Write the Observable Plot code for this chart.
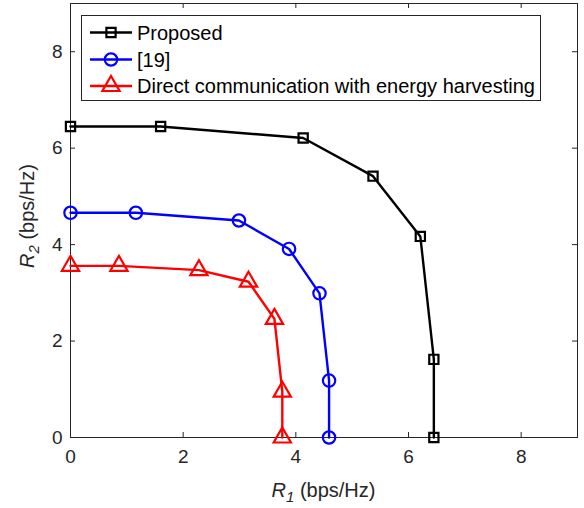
<!DOCTYPE html>
<html>
<head>
<meta charset="utf-8">
<script src="https://cdn.jsdelivr.net/npm/d3@7"></script>
<script src="https://cdn.jsdelivr.net/npm/@observablehq/plot@0.6"></script>
<style>
  html, body { margin: 0; padding: 0; background: #fff; }
  #chart { width: 584px; height: 508px; }
</style>
</head>
<body>
<div id="chart"></div>
<script>
// ---- Data ----
const seriesNames = ["Proposed", "[19]", "Direct communication with energy harvesting"];
const seriesColors = ["#000000", "#0000ff", "#ff0000"];
const seriesSymbols = ["square", "circle", "triangle"];

const proposedR1 = [0, 1.60, 4.13, 5.37, 6.21, 6.45, 6.45];
const proposedR2 = [6.45, 6.45, 6.21, 5.42, 4.17, 1.62, 0];

const ref19R1 = [0, 1.16, 2.99, 3.88, 4.42, 4.59, 4.59];
const ref19R2 = [4.66, 4.66, 4.50, 3.91, 2.99, 1.18, 0];

const directR1 = [0, 0.86, 2.28, 3.16, 3.62, 3.76, 3.76];
const directR2 = [3.56, 3.56, 3.47, 3.23, 2.46, 0.95, 0];

const xTicks = [0, 2, 4, 6, 8];
const yTicks = [0, 2, 4, 6, 8];
const xDomain = [0, 9];
const yDomain = [0, 9];

// ---- Build table ----
const allR1 = [proposedR1, ref19R1, directR1];
const allR2 = [proposedR2, ref19R2, directR2];
const rows = [];
seriesNames.forEach((s, i) => {
  allR1[i].forEach((x, j) => rows.push({series: s, r1: x, r2: allR2[i][j]}));
});

const W = 584, H = 508;
const mL = 70, mR = 7, mT = 3, mB = 71;
const innerH = H - mT - mB;
const innerW = W - mL - mR;
const axisColor = "#262626";
const tickLen = 5;
const symR = {square: 5.2, circle: 6.2, triangle: 6.4};

const marks = [
  Plot.frame({stroke: axisColor, strokeWidth: 1}),
  // inward ticks on all four sides
  Plot.tickX(xTicks, {x: d => d, insetTop: innerH - tickLen, stroke: axisColor}),
  Plot.tickX(xTicks, {x: d => d, insetBottom: innerH - tickLen, stroke: axisColor}),
  Plot.tickY(yTicks, {y: d => d, insetRight: innerW - tickLen, stroke: axisColor}),
  Plot.tickY(yTicks, {y: d => d, insetLeft: innerW - tickLen, stroke: axisColor}),
  Plot.axisX({ticks: xTicks, tickSize: 0, tickPadding: 12, fontSize: 19, label: null, color: axisColor, tickFormat: d => d}),
  Plot.axisY({ticks: yTicks, tickSize: 0, tickPadding: 8, fontSize: 19, label: null, color: axisColor, tickFormat: d => d})
];
seriesNames.forEach((s, i) => {
  const d = rows.filter(r => r.series === s);
  marks.push(Plot.line(d, {x: "r1", y: "r2", stroke: seriesColors[i], strokeWidth: 2.4}));
  marks.push(Plot.dot(d, {x: "r1", y: "r2", symbol: seriesSymbols[i], r: symR[seriesSymbols[i]],
    stroke: seriesColors[i], fill: "none", strokeWidth: 2.2}));
});

const svg = Plot.plot({
  width: W, height: H,
  marginLeft: mL, marginRight: mR, marginTop: mT, marginBottom: mB,
  style: {fontFamily: "'Liberation Sans', Arial, Helvetica, sans-serif", background: "#fff", color: axisColor},
  x: {domain: xDomain, axis: null},
  y: {domain: yDomain, axis: null},
  symbol: {domain: seriesSymbols, range: seriesSymbols},
  marks
});

document.getElementById("chart").appendChild(svg);

// ---- Axis titles (italic R with subscript) ----
const s = d3.select(svg);
const font = "'Liberation Sans', Arial, Helvetica, sans-serif";
const xt = s.append("text")
  .attr("x", mL + innerW / 2).attr("y", 497)
  .attr("text-anchor", "middle").attr("font-family", font).attr("font-size", 20).attr("fill", axisColor);
xt.append("tspan").attr("font-style", "italic").text("R");
xt.append("tspan").attr("font-style", "italic").attr("font-size", 15).attr("dy", 5).text("1");
xt.append("tspan").attr("dy", -5).text(" (bps/Hz)");

const yt = s.append("text")
  .attr("transform", `translate(34,${mT + innerH / 2 - 4}) rotate(-90)`)
  .attr("text-anchor", "middle").attr("font-family", font).attr("font-size", 20).attr("fill", axisColor);
yt.append("tspan").attr("font-style", "italic").text("R");
yt.append("tspan").attr("font-style", "italic").attr("font-size", 15).attr("dy", 5).text("2");
yt.append("tspan").attr("dy", -5).text(" (bps/Hz)");

// ---- Legend ----
const lg = s.append("g");
lg.append("rect").attr("x", 81.5).attr("y", 15.5).attr("width", 459).attr("height", 85)
  .attr("fill", "#fff").attr("stroke", axisColor).attr("stroke-width", 1);
const rowY = [32.5, 59.5, 86];
seriesNames.forEach((name, i) => {
  const y = rowY[i];
  lg.append("line").attr("x1", 90).attr("x2", 132).attr("y1", y).attr("y2", y)
    .attr("stroke", seriesColors[i]).attr("stroke-width", 2.4);
  const sym = {square: d3.symbolSquare, circle: d3.symbolCircle, triangle: d3.symbolTriangle}[seriesSymbols[i]];
  const rr = symR[seriesSymbols[i]];
  lg.append("path").attr("d", d3.symbol(sym, Math.PI * rr * rr)())
    .attr("transform", `translate(111,${y})`)
    .attr("fill", "none").attr("stroke", seriesColors[i]).attr("stroke-width", 2.2);
  lg.append("text").attr("x", 137).attr("y", y).attr("dy", "0.36em")
    .attr("text-anchor", "start")
    .attr("font-family", font).attr("font-size", 20).attr("fill", "#000").text(name);
});
</script>
</body>
</html>
